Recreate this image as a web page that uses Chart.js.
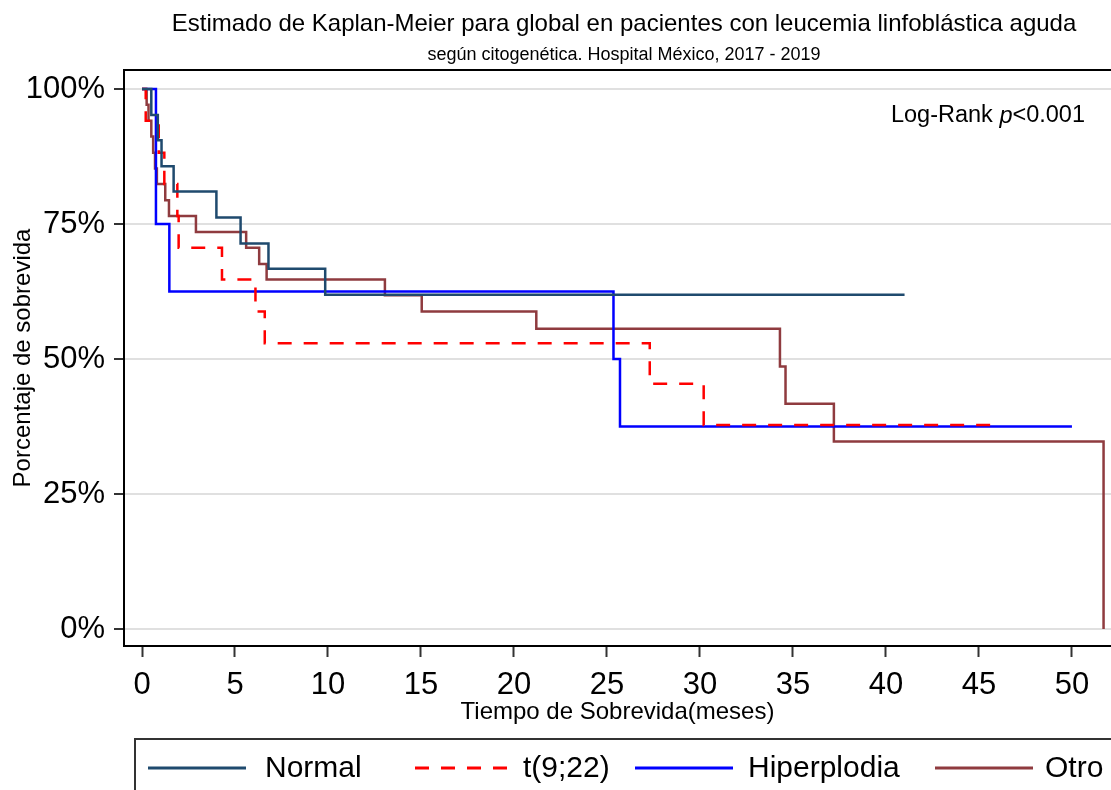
<!DOCTYPE html>
<html>
<head>
<meta charset="utf-8">
<script src="https://cdn.jsdelivr.net/npm/chart.js@4.4.1/dist/chart.umd.min.js"></script>
<style>
  html, body { margin: 0; padding: 0; background: #fff; }
  canvas { display: block; }
</style>
</head>
<body>
<canvas id="c" width="1111" height="790"></canvas>
<script>
// ---- Data ----
const seriesNames = ["Normal", "t(9;22)", "Hiperplodia", "Otro"];

const normalTime = [0, 0.5, 0.85, 1.05, 1.7, 4.0, 5.3, 6.8, 9.85, 41.0];
const normalSurv = [100, 95.2, 90.5, 85.7, 81.0, 76.2, 71.4, 66.7, 61.9, 61.9];

const t922Time = [0, 0.2, 0.9, 1.2, 1.9, 1.97, 4.3, 6.1, 6.6, 27.3, 30.2, 46.0];
const t922Surv = [100, 94.1, 88.2, 82.4, 76.5, 70.6, 64.7, 58.8, 52.9, 45.4, 37.8, 37.8];

const hiperTime = [0, 0.75, 1.47, 25.35, 25.7, 50.0];
const hiperSurv = [100, 75, 62.5, 50, 37.5, 37.5];

const otroTime = [0, 0.25, 0.35, 0.5, 0.6, 0.7, 0.8, 1.25, 1.45, 2.9, 5.6, 6.3, 6.7, 13.06, 15.04, 21.2, 34.3, 34.6, 37.2, 51.7];
const otroSurv = [100, 97.1, 94.1, 91.2, 88.2, 85.3, 82.4, 79.4, 76.5, 73.5, 70.6, 67.6, 64.7, 61.8, 58.8, 55.6, 48.6, 41.7, 34.7, 0];

const xTickValues = [0, 5, 10, 15, 20, 25, 30, 35, 40, 45, 50];
const yTickValues = [0, 25, 50, 75, 100];

const titleText = "Estimado de Kaplan-Meier para global en pacientes con leucemia linfoblástica aguda";
const subtitleText = "según citogenética. Hospital México, 2017 - 2019";
const xTitle = "Tiempo de Sobrevida(meses)";
const yTitle = "Porcentaje de sobrevida";
const annotationParts = ["Log-Rank ", "p", "<0.001"];

// ---- Build ----
const FONT = "'Liberation Sans', Arial, sans-serif";
const colors = ["#1f4a6e", "#ff0000", "#0000ff", "#8f3b3f"];
const dashes = [[], [14, 12], [], []];
const times = [normalTime, t922Time, hiperTime, otroTime];
const survs = [normalSurv, t922Surv, hiperSurv, otroSurv];

const datasets = seriesNames.map((name, i) => ({
  label: name,
  data: times[i].map((t, k) => ({ x: t, y: survs[i][k] })),
  borderColor: colors[i],
  backgroundColor: colors[i],
  borderWidth: 2.5,
  borderDash: dashes[i],
  stepped: 'before',
  pointRadius: 0,
  fill: false,
  tension: 0
}));

const framePlugin = {
  id: 'frameAndExtras',
  afterDraw(chart) {
    const ctx = chart.ctx;
    const a = chart.chartArea;
    ctx.save();
    // titles
    ctx.fillStyle = '#000';
    ctx.textAlign = 'center';
    ctx.textBaseline = 'middle';
    ctx.font = "24px " + FONT;
    ctx.fillText(titleText, 624, 24);
    ctx.font = "18px " + FONT;
    ctx.fillText(subtitleText, 624, 55);

    // top frame line
    ctx.strokeStyle = '#000';
    ctx.lineWidth = 2;
    ctx.beginPath();
    ctx.moveTo(a.left - 1, a.top);
    ctx.lineTo(chart.width, a.top);
    ctx.stroke();

    // Log-Rank annotation
    const size = 23.5;
    const fNormal = size + "px " + FONT;
    const fItalic = "italic " + size + "px " + FONT;
    ctx.font = fNormal;
    const w0 = ctx.measureText(annotationParts[0]).width;
    const w2 = ctx.measureText(annotationParts[2]).width;
    ctx.font = fItalic;
    const w1 = ctx.measureText(annotationParts[1]).width;
    let x = 1085 - (w0 + w1 + w2);
    const y = 116;
    ctx.textAlign = 'left';
    ctx.font = fNormal; ctx.fillText(annotationParts[0], x, y); x += w0;
    ctx.font = fItalic; ctx.fillText(annotationParts[1], x, y); x += w1;
    ctx.font = fNormal; ctx.fillText(annotationParts[2], x, y);

    // Legend box
    ctx.strokeStyle = '#333';
    ctx.lineWidth = 2;
    ctx.strokeRect(135, 739, 1111, 100);
    const lineStarts = [148, 415, 635, 935];
    const textStarts = [265, 523, 748, 1045];
    const ly = 768;
    ctx.font = "30px " + FONT;
    ctx.textBaseline = 'middle';
    chart.data.datasets.forEach((ds, i) => {
      ctx.strokeStyle = ds.borderColor;
      ctx.lineWidth = 3;
      ctx.setLineDash(ds.borderDash || []);
      ctx.beginPath();
      ctx.moveTo(lineStarts[i], ly);
      ctx.lineTo(lineStarts[i] + 98, ly);
      ctx.stroke();
      ctx.setLineDash([]);
      ctx.fillStyle = '#000';
      ctx.fillText(ds.label, textStarts[i], ly + 1);
    });
    ctx.restore();
  }
};

new Chart(document.getElementById('c'), {
  type: 'line',
  data: { datasets },
  options: {
    responsive: false,
    animation: false,
    devicePixelRatio: 1,
    layout: { padding: { top: 70, left: 0, right: 0, bottom: 0 } },
    plugins: {
      legend: { display: false },
      tooltip: { enabled: false },
      title: { display: false },
      subtitle: { display: false }
    },
    scales: {
      x: {
        type: 'linear',
        min: -0.968,
        max: 52.1,
        afterBuildTicks(scale) { scale.ticks = xTickValues.map(v => ({ value: v })); },
        afterFit(scale) { scale.height = 144; },
        ticks: {
          color: '#000',
          font: { family: FONT, size: 31 },
          padding: 10,
          maxRotation: 0,
          autoSkip: false
        },
        grid: {
          drawOnChartArea: false,
          drawTicks: true,
          tickLength: 11,
          tickColor: '#333',
          tickWidth: 2
        },
        border: { display: true, color: '#000', width: 2 },
        title: {
          display: true,
          text: xTitle,
          color: '#000',
          font: { family: FONT, size: 24 },
          padding: { top: 0, bottom: 63 }
        }
      },
      y: {
        type: 'linear',
        min: -3.15,
        max: 103.52,
        afterBuildTicks(scale) { scale.ticks = yTickValues.map(v => ({ value: v })); },
        afterFit(scale) { scale.width = 124; },
        ticks: {
          color: '#000',
          font: { family: FONT, size: 31 },
          padding: 9,
          callback: v => v + '%'
        },
        grid: {
          color: '#e0e0e0',
          lineWidth: 2,
          drawTicks: true,
          tickLength: 10,
          tickColor: '#333',
          tickWidth: 2
        },
        border: { display: true, color: '#000', width: 2 },
        title: {
          display: true,
          text: yTitle,
          color: '#000',
          font: { family: FONT, size: 24 },
          padding: { top: 9, bottom: 0 }
        }
      }
    }
  },
  plugins: [framePlugin]
});
</script>
</body>
</html>
